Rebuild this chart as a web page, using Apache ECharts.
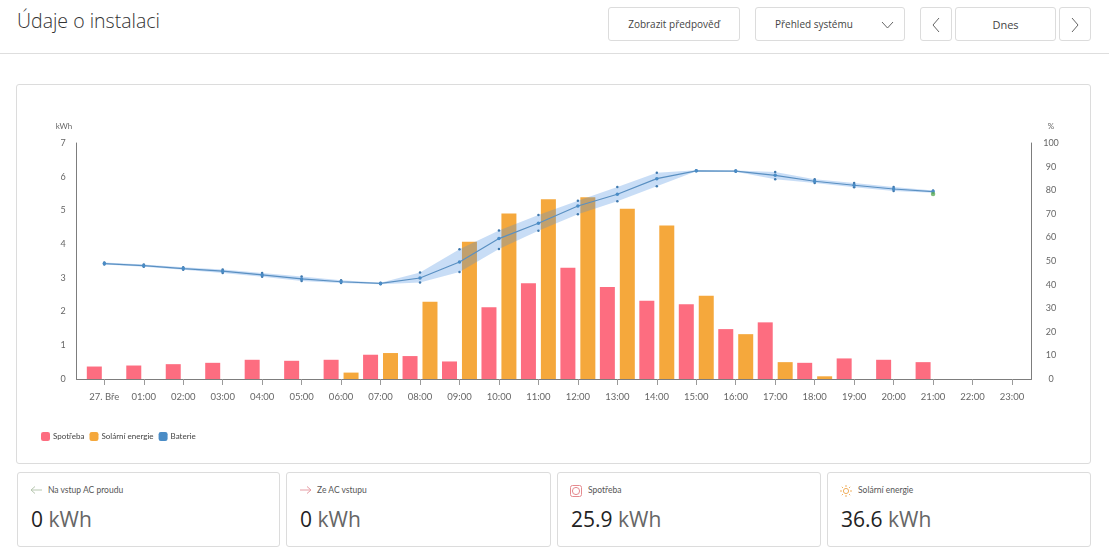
<!DOCTYPE html>
<html lang="cs">
<head>
<meta charset="utf-8">
<title>Údaje o instalaci</title>
<script src="https://cdn.jsdelivr.net/npm/echarts@6/dist/echarts.min.js"></script>
<style>
html,body{margin:0;padding:0;width:1109px;height:555px;overflow:hidden;background:#fff;font-family:"Open Sans",sans-serif;color:#333}
.abs{position:absolute;box-sizing:border-box}
.box{border:1px solid #dcdcdc;border-radius:3px;background:#fff}
.btn{display:flex;align-items:center;justify-content:center;font-size:10px;color:#444}
#chart{position:absolute;left:0;top:0;width:1109px;height:555px}
.lab{position:absolute;left:30px;top:12px;font-family:Lato,sans-serif;font-size:8.5px;color:#555;white-space:nowrap}
.val{position:absolute;left:13px;top:32px;font-size:21px;color:#222;white-space:nowrap}
.val span{color:#666}
.ico{position:absolute;left:12px;top:12px}
</style>
</head>
<body>
<div class="abs" style="left:17px;top:7px;font-size:19.5px;font-weight:300;color:#333">Údaje o instalaci</div>
<div class="abs" style="left:0;top:53px;width:1109px;height:1px;background:#dedede"></div>
<div class="abs box btn" style="left:608px;top:7px;width:132px;height:34px">Zobrazit předpověď</div>
<div class="abs box btn" style="left:755px;top:7px;width:150px;height:34px;justify-content:flex-start;padding-left:19px">Přehled systému
  <svg style="position:absolute;left:125px;top:13px" width="13" height="8"><path d="M1 1L6.5 7L12 1" fill="none" stroke="#666"/></svg></div>
<div class="abs box" style="left:920px;top:7px;width:32px;height:34px"><svg style="position:absolute;left:11px;top:9px" width="9" height="16"><path d="M7 1L1 8L7 15" fill="none" stroke="#666"/></svg></div>
<div class="abs box btn" style="left:955px;top:7px;width:101px;height:34px;font-size:11px">Dnes</div>
<div class="abs box" style="left:1059px;top:7px;width:32px;height:34px"><svg style="position:absolute;left:11px;top:9px" width="9" height="16"><path d="M1 1L7 8L1 15" fill="none" stroke="#666"/></svg></div>

<div class="abs box" style="left:16px;top:84px;width:1075px;height:380px"></div>

<div class="abs box" style="left:17px;top:472px;width:263px;height:75px">
  <svg class="ico" width="13" height="10"><path d="M12 5H1M5 1.5L1 5L5 8.5" fill="none" stroke="#b7c7b0"/></svg>
  <div class="lab">Na vstup AC proudu</div><div class="val">0 <span>kWh</span></div></div>
<div class="abs box" style="left:286px;top:472px;width:265px;height:75px">
  <svg class="ico" width="13" height="10"><path d="M1 5H12M8 1.5L12 5L8 8.5" fill="none" stroke="#e69ca4"/></svg>
  <div class="lab">Ze AC vstupu</div><div class="val">0 <span>kWh</span></div></div>
<div class="abs box" style="left:557px;top:472px;width:264px;height:75px">
  <svg class="ico" width="12" height="12"><rect x=".5" y=".5" width="11" height="11" rx="2" fill="none" stroke="#e58a8f"/><circle cx="6" cy="6" r="3.6" fill="none" stroke="#e58a8f"/></svg>
  <div class="lab">Spotřeba</div><div class="val">25.9 <span>kWh</span></div></div>
<div class="abs box" style="left:827px;top:472px;width:264px;height:75px">
  <svg class="ico" width="12" height="12"><circle cx="6" cy="6" r="2.6" fill="none" stroke="#f0b060"/><path d="M6 0V2M6 10V12M0 6H2M10 6H12M1.8 1.8L3 3M9 9L10.2 10.2M1.8 10.2L3 9M9 3L10.2 1.8" stroke="#f0b060"/></svg>
  <div class="lab">Solární energie</div><div class="val">36.6 <span>kWh</span></div></div>

<div id="chart"></div>
<script>
const hours = [0,1,2,3,4,5,6,7,8,9,10,11,12,13,14,15,16,17,18,19,20,21,22,23];
const tickLabels = ['27. Bře','01:00','02:00','03:00','04:00','05:00','06:00','07:00','08:00','09:00','10:00','11:00','12:00','13:00','14:00','15:00','16:00','17:00','18:00','19:00','20:00','21:00','22:00','23:00'];
const consumption = [0.37,0.40,0.44,0.48,0.57,0.54,0.57,0.72,0.68,0.52,2.13,2.84,3.30,2.73,2.32,2.22,1.48,1.68,0.48,0.61,0.57,0.50,0,0];
const solar = [0,0,0,0,0,0,0.19,0.77,2.29,4.07,4.91,5.33,5.39,5.05,4.55,2.47,1.33,0.50,0.08,0,0,0,0,0];
const batteryMid = [48.9,48.0,46.8,45.7,44.1,42.4,41.2,40.5,42.8,49.6,59.5,66.0,73.3,78.3,84.9,88.2,88.1,86.3,83.8,82.1,80.5,79.4];
const batteryLow = [48.5,47.6,46.3,44.9,43.3,41.5,40.7,40.2,40.9,45.3,55.1,62.8,69.8,75.3,81.7,88.0,87.8,84.6,83.1,81.2,79.7,78.9];
const batteryHigh = [49.4,48.5,47.4,46.4,44.9,43.4,41.8,40.8,45.1,55.0,62.9,69.5,75.5,81.4,87.4,88.5,88.4,87.7,84.6,83.1,81.4,79.9];
const lastReading = [[21,78.4]];

const PINK='#fd6d80', ORANGE='#f5a83c', BLUE='#4a8cc6', DOT='#3f78ad';
const FONT='Lato, sans-serif', GREY='#666';
const pair = (arr)=>arr.map((v,i)=>[hours[i],v]);
const dots = (name,arr)=>({name,type:'line',yAxisIndex:1,symbol:'circle',symbolSize:2.5,
  lineStyle:{opacity:0},itemStyle:{color:DOT},z:4,data:pair(arr)});
const chart = echarts.init(document.getElementById('chart'),null,{renderer:'canvas'});
chart.setOption({
  animation:false,
  textStyle:{fontFamily:FONT},
  legend:{
    left:36, top:427, itemWidth:9, itemHeight:9, itemGap:5, icon:'roundRect',
    textStyle:{fontSize:8,color:'#444',fontFamily:FONT,padding:[0,0,0,-2]},
    data:[{name:'Spotřeba'},{name:'Solární energie'},{name:'Baterie',itemStyle:{color:BLUE}}]
  },
  grid:{left:76.5,right:77.5,top:143,bottom:176},
  xAxis:{
    type:'value', min:-0.704, max:23.494, splitLine:{show:false},
    axisLine:{lineStyle:{color:'#7d7d7d'}},
    axisTick:{show:true,length:6,lineStyle:{color:'#9a9a9a'},customValues:hours},
    axisLabel:{customValues:hours,formatter:(v)=>tickLabels[Math.round(v)],fontSize:9.5,color:GREY,margin:13,fontFamily:FONT}
  },
  yAxis:[{
    type:'value',min:0,max:7,interval:1,name:'kWh',nameGap:13,position:'left',
    nameTextStyle:{fontSize:8,color:GREY,padding:[0,25,0,0]},
    splitLine:{show:false},axisTick:{show:false},
    axisLine:{show:true,onZero:false,lineStyle:{color:'#7d7d7d'}},
    axisLabel:{fontSize:9,color:GREY,margin:13.5,align:'center'}
  },{
    type:'value',min:0,max:100,interval:10,name:'%',nameGap:13,position:'right',
    nameTextStyle:{fontSize:8,color:GREY,padding:[0,0,0,39]},
    splitLine:{show:false},axisTick:{show:false},
    axisLine:{show:true,onZero:false,lineStyle:{color:'#7d7d7d'}},
    axisLabel:{fontSize:9,color:GREY,margin:19.5,align:'center'}
  }],
  series:[
    {name:'Spotřeba',type:'bar',barWidth:15,barGap:'33%',itemStyle:{color:PINK},data:pair(consumption)},
    {name:'Solární energie',type:'bar',barWidth:15,barGap:'33%',itemStyle:{color:ORANGE},data:pair(solar)},
    {name:'batteryBand',type:'custom',yAxisIndex:1,z:3,silent:true,
      data:pair(batteryMid),
      encode:{x:0,y:1},
      renderItem:(params,api)=>{
        if(params.dataIndex!==0) return null;
        const upper=batteryHigh.map((v,i)=>api.coord([hours[i],v]));
        const lower=batteryLow.map((v,i)=>api.coord([hours[i],v])).reverse();
        return {type:'polygon',shape:{points:upper.concat(lower)},style:{fill:'rgba(74,144,226,0.3)'}};
      }},
    dots('batteryLow',batteryLow),
    dots('batteryHigh',batteryHigh),
    {name:'Baterie',type:'line',yAxisIndex:1,symbol:'circle',symbolSize:3.5,z:5,
      lineStyle:{color:'#5a90c2',width:1.2},itemStyle:{color:BLUE},data:pair(batteryMid)},
    {name:'lastReading',type:'scatter',yAxisIndex:1,symbolSize:4.5,z:6,itemStyle:{color:'#5fae5a'},data:lastReading}
  ]
});
</script>
</body>
</html>
